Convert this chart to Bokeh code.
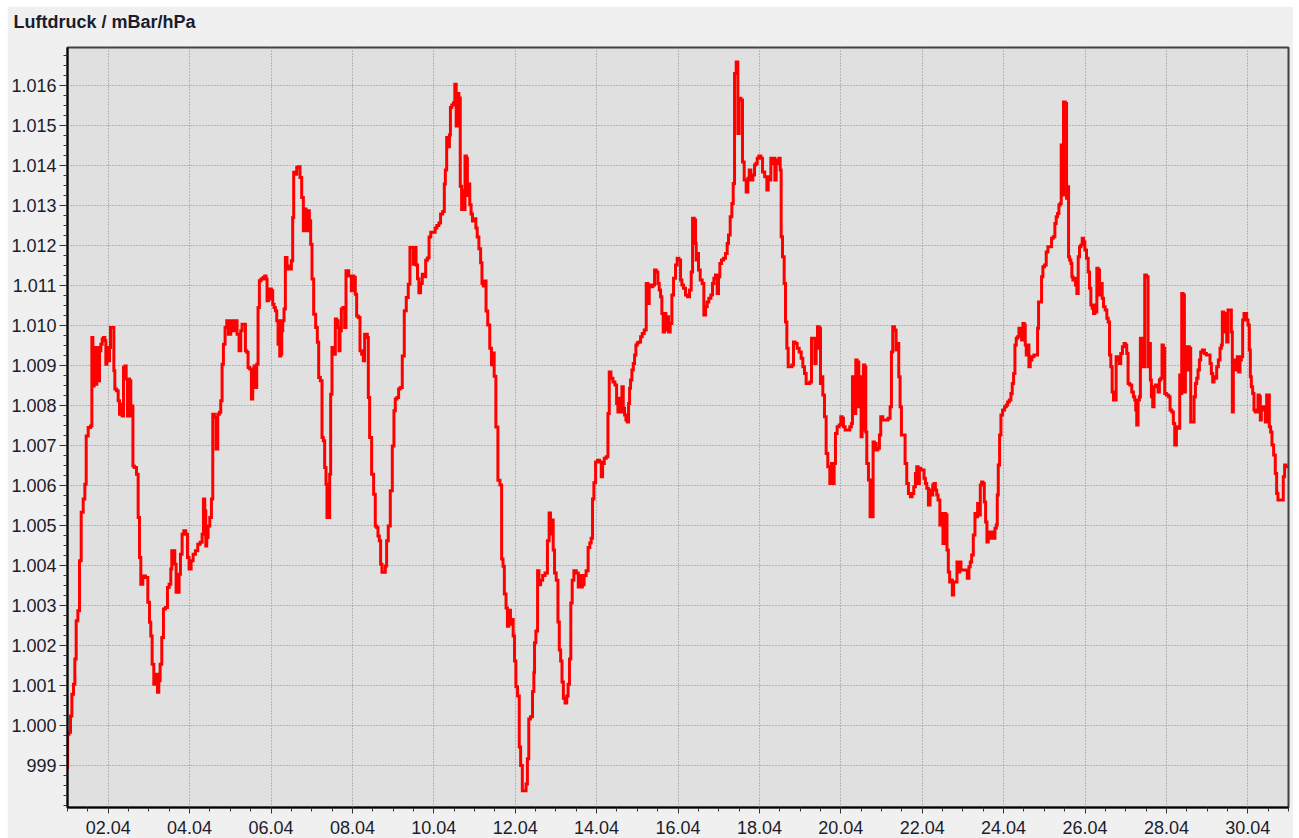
from bokeh.plotting import figure
from bokeh.models import Range1d, FixedTicker, GlobalInlineStyleSheet, Title
from bokeh.embed import file_html
from bokeh.resources import INLINE

# time in days (1.0 = 01.04 00:00), pressure in hPa
time_days = [
    1.001, 1.005, 1.066, 1.083, 1.132, 1.164, 1.197, 1.230, 1.279, 1.312, 1.361, 1.410, 1.443, 1.476, 1.541, 1.590,
    1.607, 1.639, 1.672, 1.705, 1.737, 1.770, 1.803, 1.836, 1.868, 1.901, 1.934, 1.950, 1.983, 2.016, 2.048, 2.065,
    2.130, 2.147, 2.179, 2.229, 2.261, 2.294, 2.327, 2.359, 2.392, 2.425, 2.458, 2.490, 2.507, 2.539, 2.572, 2.605,
    2.610, 2.670, 2.720, 2.752, 2.785, 2.818, 2.883, 2.949, 2.998, 3.030, 3.063, 3.096, 3.145, 3.194, 3.227, 3.260,
    3.292, 3.341, 3.374, 3.440, 3.472, 3.522, 3.554, 3.571, 3.620, 3.652, 3.685, 3.734, 3.751, 3.800, 3.832, 3.882,
    3.931, 3.963, 4.013, 4.062, 4.111, 4.176, 4.225, 4.291, 4.324, 4.356, 4.389, 4.405, 4.438, 4.471, 4.520, 4.553,
    4.585, 4.635, 4.667, 4.716, 4.749, 4.782, 4.815, 4.847, 4.896, 4.929, 4.978, 5.044, 5.093, 5.142, 5.191,
    5.240, 5.273, 5.305, 5.355, 5.387, 5.420, 5.453, 5.502, 5.535, 5.567, 5.600, 5.633, 5.666, 5.698, 5.731, 5.780,
    5.829, 5.862, 5.895, 5.911, 5.960, 5.993, 6.026, 6.058, 6.091, 6.124, 6.157, 6.189, 6.206, 6.222, 6.255, 6.271,
    6.304, 6.337, 6.369, 6.418, 6.451, 6.484, 6.517, 6.549, 6.566, 6.615, 6.648, 6.697, 6.729, 6.779, 6.811, 6.844,
    6.877, 6.910, 6.926, 6.959, 6.991, 7.024, 7.073, 7.122, 7.155, 7.188, 7.237, 7.270, 7.302, 7.335, 7.368, 7.384,
    7.433, 7.450, 7.482, 7.515, 7.564, 7.597, 7.630, 7.662, 7.679, 7.712, 7.744, 7.793, 7.826, 7.859, 7.892, 7.924,
    7.957, 7.990, 8.023, 8.055, 8.088, 8.121, 8.170, 8.203, 8.252, 8.284, 8.317, 8.350, 8.383, 8.399, 8.448, 8.497,
    8.546, 8.579, 8.612, 8.645, 8.677, 8.710, 8.743, 8.792, 8.825, 8.857, 8.906, 8.956, 9.005, 9.037, 9.070, 9.119,
    9.152, 9.201, 9.250, 9.299, 9.348, 9.397, 9.430, 9.479, 9.512, 9.545,
    9.583, 9.617, 9.650, 9.700, 9.733, 9.783, 9.817, 9.867, 9.900, 9.950, 10.017, 10.050, 10.100, 10.150, 10.183,
    10.250, 10.267, 10.300, 10.333, 10.367, 10.400, 10.417, 10.467, 10.500, 10.533, 10.567, 10.600, 10.633, 10.667,
    10.700, 10.733, 10.750, 10.783, 10.817, 10.833, 10.867, 10.900, 10.933, 10.967, 11.017, 11.050, 11.083, 11.133,
    11.167, 11.200, 11.233, 11.267, 11.300, 11.350, 11.400, 11.433, 11.467, 11.500, 11.550, 11.600, 11.650, 11.683,
    11.717, 11.750, 11.800, 11.817, 11.867, 11.900, 11.933, 11.967, 12.000, 12.033, 12.083, 12.117, 12.150, 12.200,
    12.250, 12.283, 12.317, 12.350, 12.400, 12.450, 12.467, 12.483, 12.533, 12.567, 12.600, 12.650, 12.700, 12.767,
    12.817, 12.850, 12.883, 12.917, 12.950, 12.983, 13.033, 13.067, 13.100, 13.133, 13.167, 13.200, 13.250, 13.283,
    13.317, 13.350, 13.383, 13.417, 13.467, 13.533, 13.567, 13.600, 13.633, 13.667, 13.717, 13.767, 13.817, 13.850,
    13.883, 13.917, 13.950,
    14.000, 14.049, 14.098, 14.131, 14.164, 14.213, 14.262, 14.295, 14.327, 14.376, 14.426, 14.475, 14.507, 14.540,
    14.573, 14.606, 14.638, 14.671, 14.704, 14.737, 14.769, 14.802, 14.818, 14.851, 14.884, 14.917, 14.949, 14.982,
    15.015, 15.064, 15.097, 15.146, 15.195, 15.244, 15.277, 15.309, 15.358, 15.408, 15.440, 15.489, 15.522, 15.555,
    15.588, 15.620, 15.653, 15.686, 15.718, 15.751, 15.784, 15.833, 15.866, 15.915, 15.964, 15.997, 16.046, 16.079,
    16.111, 16.160, 16.210, 16.259, 16.308, 16.341, 16.374, 16.423, 16.439, 16.455, 16.488, 16.521, 16.570, 16.619,
    16.652, 16.701, 16.734, 16.783, 16.832, 16.865, 16.897, 16.946, 16.979, 17.012, 17.045, 17.094, 17.143, 17.192,
    17.225, 17.258, 17.307, 17.340, 17.373, 17.405, 17.454, 17.487, 17.520, 17.569, 17.602, 17.651, 17.700, 17.733,
    17.766, 17.815, 17.864, 17.897, 17.929, 17.962, 18.011, 18.061, 18.093,
    18.167, 18.200, 18.232, 18.265, 18.298, 18.331, 18.363, 18.396, 18.429, 18.462, 18.494, 18.527, 18.543, 18.592,
    18.625, 18.658, 18.691, 18.723, 18.772, 18.822, 18.854, 18.903, 18.953, 19.002, 19.051, 19.083, 19.133, 19.165,
    19.214, 19.264, 19.296, 19.345, 19.378, 19.411, 19.444, 19.493, 19.509, 19.542, 19.574, 19.624, 19.656, 19.705,
    19.755, 19.787, 19.820, 19.853, 19.885, 19.935, 19.984, 20.016, 20.049, 20.082, 20.131, 20.196, 20.245, 20.278,
    20.295, 20.327, 20.360, 20.376, 20.426, 20.458, 20.491, 20.507, 20.540, 20.573, 20.605, 20.622, 20.655, 20.704,
    20.736, 20.785, 20.802, 20.851, 20.883, 20.933, 20.965, 20.998, 21.064, 21.129, 21.195, 21.228, 21.260, 21.293,
    21.342, 21.375, 21.408, 21.440, 21.473, 21.506, 21.555, 21.604, 21.637, 21.686, 21.735, 21.768, 21.817, 21.849,
    21.882, 21.915, 21.947, 21.980, 22.029, 22.062, 22.095, 22.128, 22.177, 22.209, 22.242, 22.275, 22.308, 22.340,
    22.373, 22.406,
    22.462, 22.494, 22.527, 22.560, 22.593, 22.625, 22.658, 22.691, 22.724, 22.756, 22.789, 22.838, 22.871, 22.903,
    22.936, 22.969, 23.018, 23.083, 23.133, 23.165, 23.198, 23.231, 23.280, 23.313, 23.345, 23.378, 23.411, 23.444,
    23.476, 23.509, 23.542, 23.574, 23.607, 23.640, 23.673, 23.705, 23.738, 23.771, 23.804, 23.836, 23.853, 23.885,
    23.918, 23.951, 24.000, 24.049, 24.082, 24.115, 24.164, 24.196, 24.229, 24.262, 24.295, 24.327, 24.360, 24.393,
    24.426, 24.458, 24.491, 24.524, 24.540, 24.573, 24.606, 24.638, 24.671, 24.720, 24.769, 24.818, 24.851, 24.867,
    24.916, 24.949, 24.982, 25.031, 25.064, 25.113, 25.162, 25.195, 25.244, 25.276, 25.309, 25.342, 25.375, 25.407,
    25.424, 25.456, 25.489, 25.539, 25.555, 25.588, 25.604, 25.637, 25.669, 25.686, 25.718, 25.751, 25.784, 25.817,
    25.849, 25.882, 25.915, 25.948, 25.980, 26.013, 26.062, 26.095, 26.128, 26.160, 26.193, 26.226, 26.258, 26.275,
    26.307, 26.340, 26.373, 26.406, 26.439, 26.471, 26.520, 26.553, 26.586, 26.619, 26.651, 26.684, 26.717, 26.750,
    26.780, 26.829, 26.862, 26.895, 26.944, 26.976, 27.009, 27.042, 27.075, 27.124, 27.173, 27.206, 27.238, 27.255,
    27.287, 27.320, 27.353, 27.369, 27.418, 27.451, 27.484, 27.533, 27.566, 27.598, 27.615, 27.647, 27.680, 27.713,
    27.746, 27.778, 27.811, 27.844, 27.876, 27.909, 27.943, 27.975, 28.025, 28.074, 28.106, 28.155, 28.188, 28.221,
    28.270, 28.319, 28.336, 28.368, 28.385, 28.434, 28.450, 28.483, 28.516, 28.548, 28.581, 28.614, 28.663, 28.696,
    28.729, 28.761, 28.794, 28.827, 28.859, 28.909, 28.957, 29.007, 29.056, 29.088, 29.121, 29.154, 29.187, 29.219,
    29.252, 29.301, 29.334, 29.366, 29.383, 29.432, 29.465, 29.498, 29.530, 29.579, 29.612, 29.628, 29.661, 29.694,
    29.726, 29.759, 29.792, 29.825, 29.857, 29.890, 29.923, 29.956, 29.989, 30.021, 30.054, 30.070, 30.103, 30.136,
    30.168, 30.201, 30.234, 30.267, 30.299, 30.316, 30.348, 30.381, 30.414, 30.447, 30.479, 30.512, 30.545, 30.577,
    30.610, 30.659, 30.692, 30.725, 30.757, 30.807, 30.856, 30.888, 30.921, 30.954, 30.990,
]

pressure_hpa = [
    998.94, 999.77, 999.82, 1000.23, 1000.77, 1001.02, 1001.65, 1002.61, 1002.86, 1004.11, 1005.32, 1005.65, 1006.02, 1007.23, 1007.44, 1007.48,
    1009.69, 1008.48, 1009.44, 1008.52, 1009.44, 1008.61, 1009.36, 1009.52, 1009.65, 1009.69, 1009.61, 1009.02, 1009.44, 1009.11, 1009.44, 1009.94,
    1009.94, 1008.86, 1008.40, 1008.36, 1008.11, 1007.77, 1008.02, 1007.73, 1008.94, 1008.98, 1008.65, 1007.73, 1008.65, 1008.61, 1007.73, 1007.98,
    1006.48, 1006.44, 1006.27, 1005.19, 1004.19, 1003.52, 1003.73, 1003.69, 1003.07, 1002.57, 1002.23, 1001.52, 1001.02, 1001.27, 1000.82, 1001.11,
    1001.52, 1002.19, 1002.90, 1002.94, 1003.44, 1003.52, 1003.90, 1004.36, 1004.36, 1004.02, 1003.32, 1003.32, 1003.77, 1004.27, 1004.77, 1004.86,
    1004.77, 1004.19, 1003.90, 1004.11, 1004.27, 1004.36, 1004.52, 1004.57, 1004.77, 1005.65, 1005.36, 1004.48, 1004.69, 1004.98, 1005.19, 1005.65,
    1007.77, 1007.69, 1006.90, 1007.77, 1007.82, 1008.11, 1009.02, 1009.52, 1009.94, 1010.11, 1009.77, 1010.11, 1009.86, 1010.11, 1009.77,
    1009.36, 1009.86, 1010.02, 1010.02, 1009.36, 1009.32, 1008.94, 1008.90, 1008.15, 1008.52, 1008.98, 1008.44, 1009.02, 1010.44, 1011.11, 1011.15,
    1011.19, 1011.23, 1011.15, 1010.61, 1010.65, 1010.90, 1010.86, 1010.52, 1010.44, 1010.36, 1010.11, 1009.52, 1010.11, 1009.23, 1009.27, 1009.86,
    1010.11, 1010.40, 1011.69, 1011.40, 1011.48, 1011.40, 1011.61, 1012.69, 1013.82, 1013.77, 1013.94, 1013.96, 1013.69, 1013.19, 1012.36, 1012.90,
    1012.86, 1012.36, 1012.86, 1012.61, 1012.02, 1011.15, 1010.27, 1009.94, 1009.57, 1008.69, 1008.61, 1007.19, 1007.11, 1006.44, 1006.02, 1005.19,
    1005.19, 1006.27, 1008.27, 1009.44, 1009.27, 1010.15, 1010.11, 1009.94, 1009.36, 1009.86, 1010.40, 1010.44, 1009.94, 1011.36, 1011.36, 1011.23,
    1011.23, 1010.86, 1011.23, 1011.19, 1010.77, 1010.23, 1010.19, 1009.36, 1009.27, 1009.11, 1009.77, 1009.77, 1009.69, 1008.19, 1007.19, 1006.27,
    1005.77, 1004.98, 1004.94, 1004.73, 1004.61, 1004.02, 1003.82, 1003.82, 1003.98, 1004.61, 1004.98, 1005.86, 1006.98, 1007.86, 1008.15, 1008.19,
    1008.40, 1008.44, 1009.23, 1010.36, 1010.69, 1011.02, 1011.94, 1011.94, 1011.52, 1011.94,
    1011.50, 1011.16, 1010.81, 1011.04, 1011.27, 1011.21, 1011.62, 1011.68, 1012.20, 1012.32, 1012.32, 1012.43, 1012.49, 1012.55, 1012.78,
    1012.84, 1013.53, 1013.88, 1014.69, 1014.46, 1014.75, 1015.44, 1015.50, 1015.56, 1016.02, 1014.98, 1015.79, 1015.68, 1013.47,
    1012.89, 1013.36, 1012.89, 1014.23, 1014.17, 1013.24, 1013.53, 1013.01, 1012.78, 1012.60, 1012.66, 1012.43, 1012.20, 1011.91,
    1011.56, 1011.04, 1010.98, 1011.10, 1010.35, 1010.00, 1009.42, 1009.01, 1009.30, 1008.72, 1007.45, 1006.12, 1006.00, 1004.15,
    1003.97, 1003.28, 1002.93, 1002.47, 1002.87, 1002.52, 1002.64, 1002.23, 1001.60, 1000.96, 1000.73, 999.45, 998.99, 998.36,
    998.36, 998.53, 999.16, 1000.15, 1000.21, 1000.84, 1001.31, 1002.06, 1002.35, 1003.86, 1003.51, 1003.62, 1003.74, 1003.80,
    1004.61, 1005.30, 1004.78, 1005.13, 1004.38, 1003.80, 1003.62, 1002.58, 1001.88, 1001.60, 1001.08, 1000.67, 1000.55, 1000.73,
    1001.02, 1001.65, 1003.05, 1003.62, 1003.86, 1003.80, 1003.45, 1003.74, 1003.45, 1003.51, 1003.74, 1003.86, 1004.44, 1004.55,
    1004.67, 1005.65, 1006.06,
    1006.58, 1006.62, 1006.58, 1006.21, 1006.54, 1006.67, 1006.71, 1007.79, 1008.83, 1008.67, 1008.58, 1008.50, 1008.04, 1007.83,
    1008.17, 1007.83, 1008.46, 1007.92, 1007.75, 1007.63, 1007.58, 1008.04, 1008.42, 1008.63, 1008.88, 1009.04, 1009.25, 1009.50,
    1009.56, 1009.58, 1009.71, 1009.79, 1009.88, 1011.04, 1010.54, 1011.00, 1010.96, 1011.00, 1011.38, 1011.33, 1011.04, 1010.88,
    1010.71, 1010.29, 1009.83, 1010.29, 1009.88, 1010.21, 1009.83, 1010.04, 1010.75, 1011.17, 1011.50, 1011.67, 1011.63, 1011.13,
    1011.00, 1010.92, 1010.75, 1010.71, 1010.88, 1011.33, 1012.67, 1012.63, 1012.04, 1011.63, 1011.79, 1011.38, 1011.13, 1011.04,
    1010.25, 1010.46, 1010.58, 1010.67, 1010.75, 1011.04, 1011.17, 1011.25, 1010.79, 1011.21, 1011.54, 1011.63, 1011.67, 1011.79,
    1012.04, 1012.25, 1012.71, 1013.04, 1013.54, 1016.29, 1016.58, 1014.79, 1015.67, 1015.63, 1014.08, 1013.63, 1013.33, 1013.67,
    1013.88, 1013.63, 1013.75, 1014.00, 1014.04, 1014.17, 1014.23, 1014.17, 1013.83,
    1013.71, 1013.38, 1013.71, 1013.63, 1014.17, 1014.04, 1014.17, 1013.63, 1014.13, 1014.04, 1014.17, 1013.88, 1012.21, 1011.71,
    1011.04, 1010.08, 1009.42, 1008.96, 1008.96, 1009.00, 1009.58, 1009.54, 1009.42, 1009.33, 1009.17, 1008.96, 1008.79, 1008.54,
    1008.54, 1008.58, 1009.67, 1009.67, 1009.04, 1009.42, 1009.96, 1009.92, 1008.54, 1008.71, 1008.25, 1007.71, 1006.79, 1006.46,
    1006.04, 1006.54, 1006.04, 1006.54, 1007.29, 1007.46, 1007.50, 1007.71, 1007.67, 1007.46, 1007.38, 1007.38, 1007.46, 1007.54,
    1008.71, 1008.38, 1007.79, 1009.13, 1009.08, 1007.96, 1008.71, 1007.21, 1007.38, 1009.00, 1008.96, 1007.33, 1006.54, 1006.13,
    1005.21, 1005.21, 1007.08, 1007.04, 1006.88, 1006.92, 1007.25, 1007.71, 1007.63, 1007.63, 1007.67, 1007.96, 1009.33, 1009.96,
    1009.88, 1009.38, 1009.54, 1008.71, 1007.96, 1007.25, 1007.25, 1006.54, 1006.04, 1005.79, 1005.71, 1005.79, 1005.96, 1006.29,
    1006.46, 1006.04, 1006.42, 1006.38, 1006.38, 1006.17, 1006.04, 1005.92, 1005.50, 1005.88, 1005.75, 1006.00, 1006.04, 1005.88,
    1005.75, 1005.63,
    1005.00, 1005.29, 1004.54, 1005.29, 1005.25, 1004.38, 1003.83, 1003.58, 1003.63, 1003.25, 1003.58, 1003.58, 1004.08, 1003.83,
    1004.08, 1003.88, 1003.88, 1003.88, 1003.67, 1003.96, 1004.08, 1004.25, 1004.75, 1005.29, 1005.21, 1005.54, 1005.25, 1006.00,
    1006.08, 1006.04, 1005.58, 1005.08, 1004.58, 1004.83, 1004.67, 1004.83, 1004.71, 1004.67, 1004.92, 1005.00, 1005.75, 1006.50,
    1007.25, 1007.75, 1007.88, 1007.96, 1008.00, 1008.08, 1008.13, 1008.29, 1008.54, 1008.79, 1009.50, 1009.67, 1009.71, 1009.92,
    1009.71, 1009.63, 1010.04, 1010.00, 1009.50, 1009.25, 1009.50, 1008.96, 1009.13, 1009.21, 1009.25, 1009.25, 1009.92, 1010.58,
    1010.58, 1011.21, 1011.46, 1011.50, 1011.83, 1011.96, 1011.96, 1012.17, 1012.21, 1012.54, 1012.71, 1012.79, 1013.00, 1013.04,
    1014.50, 1013.25, 1015.58, 1015.54, 1013.17, 1013.46, 1011.71, 1011.63, 1011.54, 1011.21, 1011.13, 1011.17, 1011.00, 1010.79,
    1011.71, 1011.96, 1012.00, 1012.17, 1012.08, 1011.88, 1011.67, 1011.33, 1010.92, 1010.50, 1010.42, 1010.29, 1010.50, 1010.33,
    1011.42, 1011.38, 1010.75, 1011.04, 1010.67, 1010.46, 1010.38, 1010.17, 1010.08, 1009.25, 1008.96, 1008.33, 1008.13, 1008.13,
    1009.21, 1009.13, 1009.04, 1009.29, 1009.46, 1009.54, 1009.50, 1009.29, 1008.54, 1008.50, 1008.33, 1008.21, 1008.13, 1007.88,
    1007.50, 1008.13, 1008.21, 1009.67, 1009.63, 1008.96, 1011.25, 1011.21, 1008.96, 1009.54, 1008.63, 1008.21, 1007.96, 1008.46,
    1008.50, 1008.46, 1008.33, 1008.63, 1008.67, 1009.50, 1009.42, 1008.29, 1008.25, 1008.21, 1007.88, 1007.83, 1007.54, 1007.00,
    1007.46, 1007.42, 1008.75, 1008.29, 1010.79, 1010.75, 1008.33, 1009.46, 1008.88, 1009.46, 1009.42, 1007.58, 1007.58, 1008.21,
    1008.54, 1008.67, 1008.88, 1009.13, 1009.33, 1009.38, 1009.29, 1009.25, 1009.25, 1009.04, 1008.79, 1008.58, 1008.71, 1008.67,
    1008.96, 1009.13, 1009.42, 1009.50, 1010.33, 1010.29, 1009.83, 1009.58, 1010.38, 1010.38, 1009.83, 1007.83, 1009.13, 1009.13,
    1008.88, 1009.21, 1008.83, 1009.13, 1009.21, 1010.13, 1010.29, 1010.29, 1010.13, 1010.00, 1009.38, 1008.71, 1008.46, 1008.29,
    1007.88, 1007.83, 1007.83, 1008.25, 1008.21, 1007.63, 1007.88, 1007.96, 1007.88, 1007.58, 1008.25, 1008.25, 1007.46, 1007.33,
    1007.00, 1006.75, 1006.29, 1005.79, 1005.63, 1005.63, 1005.63, 1006.21, 1006.50, 1006.46, 1006.46,
]

x_tick_days = [2, 4, 6, 8, 10, 12, 14, 16, 18, 20, 22, 24, 26, 28, 30]
x_tick_labels = ["02.04", "04.04", "06.04", "08.04", "10.04", "12.04", "14.04", "16.04",
                 "18.04", "20.04", "22.04", "24.04", "26.04", "28.04", "30.04"]
y_tick_values = list(range(999, 1017))
y_tick_labels = ["999"] + ["1.%03d" % (v - 1000) for v in range(1000, 1017)]

title_text = "Luftdruck / mBar/hPa"

FONT = "Liberation Sans"
TEXT_COLOR = "#1c1c2c"

p = figure(width=1286, height=832, output_backend="svg", toolbar_location=None,
           x_range=Range1d(1.0, 31.0), y_range=Range1d(997.94, 1016.94),
           min_border_left=60, min_border_right=5, min_border_top=41, min_border_bottom=31)

p.stylesheets = [GlobalInlineStyleSheet(css="html,body{margin:0;padding:0;overflow:hidden;background:#ffffff} body{padding:6px 0 0 7px}")]

# empty spacer panel between the frame and the title
p.add_layout(Title(text=" ", text_font_size="1px", standoff=13), "above")

p.title.text = title_text
p.title.text_font = FONT
p.title.text_font_size = "18px"
p.title.text_font_style = "bold"
p.title.text_color = TEXT_COLOR
p.title.align = "left"
p.title.offset = -54
p.title.standoff = 0

p.background_fill_color = "#e0e0e0"
p.border_fill_color = "#f0f0f0"
p.outline_line_color = "#404040"
p.outline_line_width = 2

p.step(time_days, pressure_hpa, mode="center", line_color="#ff0000", line_width=3, line_join="miter")

xa = p.xaxis[0]
xa.ticker = FixedTicker(ticks=x_tick_days, minor_ticks=[1 + 0.5 * i for i in range(61)])
xa.major_label_overrides = {d: lab for d, lab in zip(x_tick_days, x_tick_labels)}
ya = p.yaxis[0]
ya.ticker = FixedTicker(ticks=y_tick_values, minor_ticks=[998.0 + 0.25 * i for i in range(76)])
ya.major_label_overrides = {v: lab for v, lab in zip(y_tick_values, y_tick_labels)}

for ax in (xa, ya):
    ax.axis_line_color = "#000000"
    ax.axis_line_width = 2
    ax.major_tick_line_color = "#333333"
    ax.minor_tick_line_color = "#333333"
    ax.major_tick_line_width = 1
    ax.minor_tick_line_width = 1
    ax.major_tick_in = 0
    ax.minor_tick_in = 0
    ax.major_label_text_font = FONT
    ax.major_label_text_font_size = "18px"
    ax.major_label_text_color = TEXT_COLOR

xa.major_tick_out = 6
xa.minor_tick_out = 4
xa.major_label_standoff = 7
ya.major_tick_out = 8
ya.minor_tick_out = 4
ya.major_label_standoff = 3

for g in (p.xgrid[0], p.ygrid[0]):
    g.grid_line_color = "#888888"
    g.grid_line_dash = "1 2"
    g.grid_line_width = 1

open("out.html", "w").write(file_html(p, INLINE))
